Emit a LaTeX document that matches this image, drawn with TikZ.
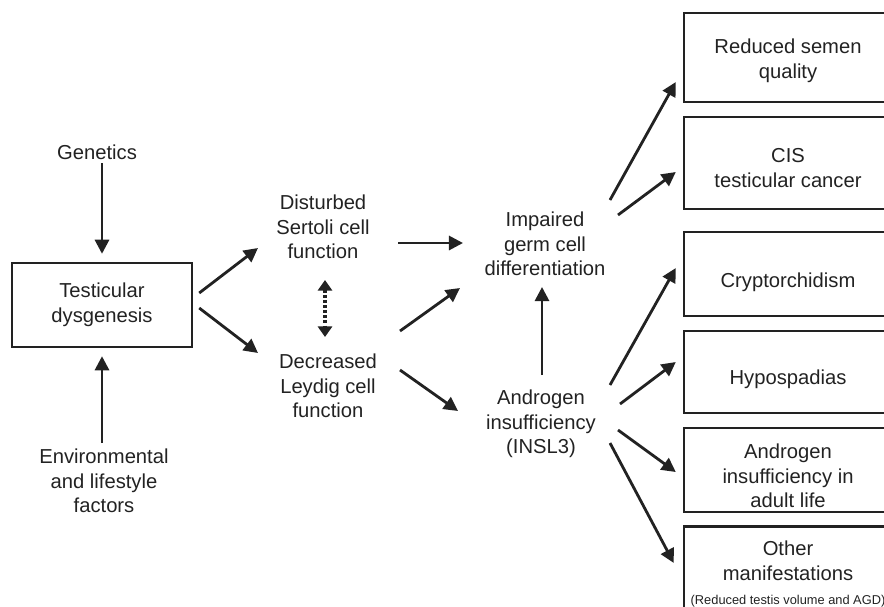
\documentclass[tikz,border=0pt]{standalone}
\usepackage{fontspec}
\setmainfont{Liberation Sans}
\usetikzlibrary{arrows.meta}
\definecolor{inkgray}{HTML}{222222}

% strut on the first line, pushes box text down a little
\newcommand{\dnstrut}[1]{\rule{0pt}{#1}}

\tikzset{
  lbl/.style={align=center, text=inkgray, font=\fontsize{11.5}{14}\selectfont},
  outbox/.style={lbl, draw=inkgray, line width=1.4pt, minimum width=4.16cm, inner ysep=0pt},
  arr/.style={line width=1.6pt, draw=inkgray, -{Triangle[length=8pt,width=8pt]}},
  dotarr/.style={line width=1.8pt, draw=inkgray, dash pattern=on 1.6pt off 1.3pt,
    {Triangle[length=6pt,width=8pt]}-{Triangle[length=6pt,width=8pt]}},
}

\begin{document}
\begin{tikzpicture}[x=0.02cm,y=-0.02cm]
    \useasboundingbox (0,0) rectangle (884,606);

    %% causes and dysgenesis
    \node[lbl] (gen) at (97,152) {Genetics};
    \node[lbl, draw=inkgray, line width=1.4pt, minimum width=3.6cm, minimum height=1.68cm] (dys) at (102,305) {Testicular\\dysgenesis};
    \node[lbl] (env) at (104,481) {Environmental\\and lifestyle\\factors};

    %% cell functions
    \node[lbl] (sert) at (323,227) {Disturbed\\Sertoli cell\\function};
    \node[lbl] (leyd) at (328,386) {Decreased\\Leydig cell\\function};

    \node[lbl] (imp) at (545,244) {Impaired\\germ cell\\differentiation};
    \node[lbl] (andr) at (541,424) {Androgen\\insufficiency\\(INSL3)};

    %% outcomes
    \node[outbox, minimum height=1.78cm] (semen) at (788,57.5) {\dnstrut{11.8pt}Reduced semen\\quality};
    \node[outbox, minimum height=1.84cm] (cis) at (788,163) {\dnstrut{14pt}CIS\\testicular cancer};
    \node[outbox, minimum height=1.68cm] (crypt) at (788,274) {\dnstrut{17.5pt}Cryptorchidism};
    \node[outbox, minimum height=1.64cm] (hypo) at (788,372) {\dnstrut{16.3pt}Hypospadias};
    \node[outbox, minimum height=1.68cm] (adult) at (788,470) {\dnstrut{15.2pt}Androgen\\insufficiency in\\adult life};
    \node[outbox, minimum height=1.9cm] (other) at (788,574) {Other\\manifestations\\{\fontsize{7.3}{8}\selectfont(Reduced testis volume and AGD)}};

    %% arrows
    \draw[arr] ([shift={(5,11)}]gen.center) -- ([shift={(0,-8)}]dys.north);
    \draw[arr] ([shift={(-2,-38)}]env.center) -- ([shift={(0,8)}]dys.south);
    \draw[arr] ([shift={(6,-12)}]dys.east) -- ([shift={(-65,21)}]sert.center);
    \draw[arr] ([shift={(6,3)}]dys.east) -- ([shift={(-70,-33)}]leyd.center);
    \draw[dotarr] ([shift={(2,53)}]sert.center) -- ([shift={(-3,-49)}]leyd.center);

    \draw[arr] ([shift={(75,16)}]sert.center) -- ([shift={(-82,-1)}]imp.center);
    \draw[arr] ([shift={(72,-55)}]leyd.center) -- ([shift={(-85,44)}]imp.center);
    \draw[arr] ([shift={(72,-16)}]leyd.center) -- ([shift={(-83,-13)}]andr.center);
    \draw[arr] ([shift={(1,-49)}]andr.center) -- ([shift={(-3,43)}]imp.center);

    \draw[arr] ([shift={(65,-44)}]imp.center) -- ([shift={(-7,24.5)}]semen.west);
    \draw[arr] ([shift={(73,-29)}]imp.center) -- ([shift={(-7,9)}]cis.west);
    \draw[arr] ([shift={(69,-39)}]andr.center) -- ([shift={(-7,-6)}]crypt.west);
    \draw[arr] ([shift={(79,-20)}]andr.center) -- ([shift={(-7,-10)}]hypo.west);
    \draw[arr] ([shift={(77,6)}]andr.center) -- ([shift={(-7,2)}]adult.west);
    \draw[arr] ([shift={(69,19)}]andr.center) -- ([shift={(-9,-11)}]other.west);
\end{tikzpicture}
\end{document}
